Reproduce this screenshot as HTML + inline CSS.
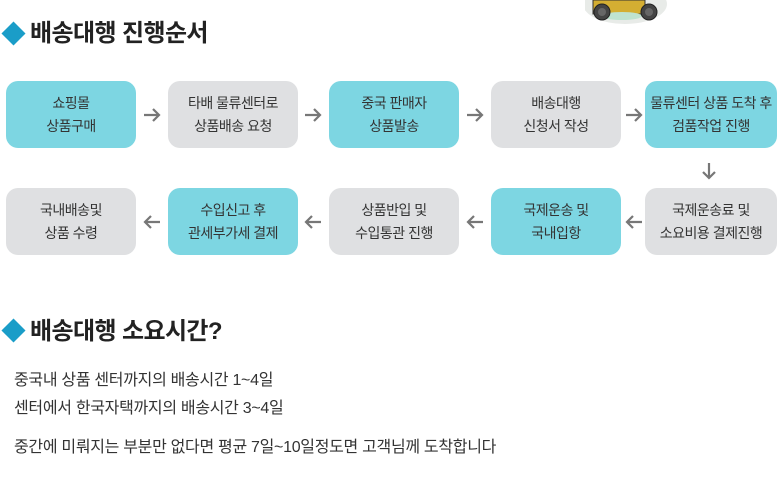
<!DOCTYPE html>
<html><head><meta charset="utf-8"><style>
body{margin:0;width:780px;height:498px;background:#fff;position:relative;overflow:hidden;font-family:"Liberation Sans","Noto Sans CJK KR",sans-serif;color:#333}
.t{position:absolute;left:30px;font-size:24px;font-weight:bold;color:#222;letter-spacing:-0.6px;line-height:28px}
.d{position:absolute;left:5px;width:17px;height:17px;background:#1a9dc8;transform:rotate(45deg)}
.b{position:absolute;width:130px;height:67px;border-radius:12px;display:flex;align-items:center;justify-content:center;text-align:center;font-size:14px;line-height:23px;color:#333;letter-spacing:-0.5px}
.c{background:#7dd6e2}.g{background:#dfe0e2}
.a{position:absolute;width:18px;height:14px}
.p{position:absolute;left:14px;font-size:16px;color:#333;line-height:18px;letter-spacing:-0.3px}
</style></head><body>
<svg width="0" height="0" style="position:absolute"><defs>
<g id="r"><path d="M1 7 H16 M10 1 L16 7 L10 13" fill="none" stroke="#777" stroke-width="2.2"/></g>
<g id="l"><path d="M17 7 H2 M8 1 L2 7 L8 13" fill="none" stroke="#777" stroke-width="2.2"/></g>
</defs></svg>
<svg style="position:absolute;left:585px;top:0" width="85" height="28">
<ellipse cx="40" cy="4" rx="42" ry="20" fill="#e8ebe8"/>
<path d="M8 0 H60 V14 H8 Z" fill="#d4ae32" stroke="#333" stroke-width="1"/>
<ellipse cx="37" cy="16" rx="20" ry="4" fill="#bfe3d0"/>
<circle cx="17" cy="12" r="8" fill="#444" stroke="#222"/><circle cx="17" cy="12" r="4" fill="#666"/>
<circle cx="64" cy="12" r="8" fill="#444" stroke="#222"/><circle cx="64" cy="12" r="4" fill="#666"/>
</svg>
<div class="d" style="top:25px"></div><div class="t" style="top:20px">배송대행 진행순서</div>
<div class="b c" style="left:6px;top:81px">쇼핑몰<br>상품구매</div>
<svg class="a" style="left:143px;top:108px"><use href="#r"/></svg>
<div class="b g" style="left:168px;top:81px">타배 물류센터로<br>상품배송 요청</div>
<svg class="a" style="left:304px;top:108px"><use href="#r"/></svg>
<div class="b c" style="left:329px;top:81px">중국 판매자<br>상품발송</div>
<svg class="a" style="left:466px;top:108px"><use href="#r"/></svg>
<div class="b g" style="left:491px;top:81px">배송대행<br>신청서 작성</div>
<svg class="a" style="left:625px;top:108px"><use href="#r"/></svg>
<div class="b c" style="left:645px;top:81px;width:132px">물류센터 상품 도착 후<br>검품작업 진행</div>
<svg style="position:absolute;left:702px;top:162px" width="14" height="18"><path d="M7 1 V16 M1 10 L7 16 L13 10" fill="none" stroke="#777" stroke-width="2.2"/></svg>
<div class="b g" style="left:6px;top:188px">국내배송및<br>상품 수령</div>
<svg class="a" style="left:143px;top:215px"><use href="#l"/></svg>
<div class="b c" style="left:168px;top:188px">수입신고 후<br>관세부가세 결제</div>
<svg class="a" style="left:304px;top:215px"><use href="#l"/></svg>
<div class="b g" style="left:329px;top:188px">상품반입 및<br>수입통관 진행</div>
<svg class="a" style="left:466px;top:215px"><use href="#l"/></svg>
<div class="b c" style="left:491px;top:188px">국제운송 및<br>국내입항</div>
<svg class="a" style="left:625px;top:215px"><use href="#l"/></svg>
<div class="b g" style="left:645px;top:188px;width:132px">국제운송료 및<br>소요비용 결제진행</div>
<div class="d" style="top:322px"></div><div class="t" style="top:318px">배송대행 소요시간?</div>
<div class="p" style="top:372px">중국내 상품 센터까지의 배송시간 1~4일</div>
<div class="p" style="top:400px">센터에서 한국자택까지의 배송시간 3~4일</div>
<div class="p" style="top:439px">중간에 미뤄지는 부분만 없다면 평균 7일~10일정도면 고객님께 도착합니다</div>
</body></html>
